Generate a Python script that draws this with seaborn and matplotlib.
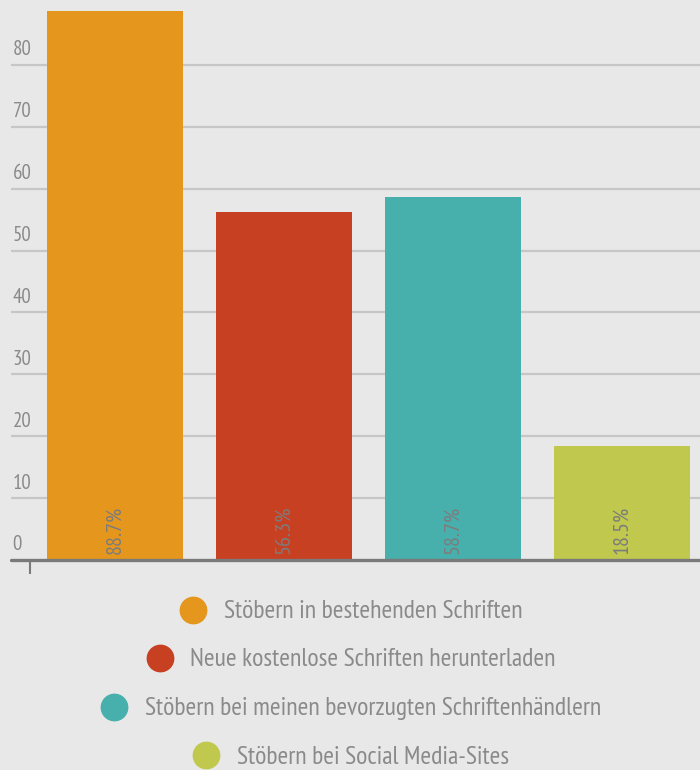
import matplotlib
matplotlib.use("Agg")
import matplotlib.pyplot as plt
import matplotlib.transforms as mtransforms
from matplotlib.lines import Line2D
import seaborn as sns

categories = [
    "Stöbern in bestehenden Schriften",
    "Neue kostenlose Schriften herunterladen",
    "Stöbern bei meinen bevorzugten Schriftenhändlern",
    "Stöbern bei Social Media-Sites",
]
values = [88.7, 56.3, 58.7, 18.5]
value_labels = ["88.7%", "56.3%", "58.7%", "18.5%"]
colors = ["#E5961C", "#C84022", "#48B0AC", "#C0C94D"]
y_ticks = [0, 10, 20, 30, 40, 50, 60, 70, 80]

BG = "#E8E8E8"
GRID = "#C6C6C6"
TEXT = "#8A8A8A"

sns.set_theme(style="white")
plt.rcParams["font.family"] = ["PT Sans Narrow", "DejaVu Sans"]

fig = plt.figure(figsize=(7, 7.7), dpi=100, facecolor=BG)
ax = fig.add_axes([11 / 700, 1 - 560 / 770, 1 - 11 / 700, 560 / 770])
ax.set_facecolor(BG)

# gridlines behind bars
for t in y_ticks[1:]:
    ax.axhline(t, color=GRID, lw=1.6, zorder=0)

sns.barplot(x=categories, y=values, hue=categories, palette=colors,
            width=0.805, saturation=1, legend=False, ax=ax, zorder=2,
            linewidth=0, edgecolor="none")

ax.set_xlim(-0.615, 3.46)
ax.set_ylim(0, 90.5)
ax.axhline(0, color="#7A7A7A", lw=2.4, zorder=3, clip_on=False)

# y tick labels sit above the gridlines
trans = mtransforms.blended_transform_factory(ax.transAxes, ax.transData)
for t in y_ticks:
    ax.text(0.002, t + 0.9, str(t), transform=trans, ha="left", va="bottom",
            fontsize=15, color=TEXT, zorder=4)

# value labels inside bars
for i, lab in enumerate(value_labels):
    ax.text(i, 0.9, lab, rotation=90, ha="center", va="bottom",
            fontsize=16, color="#7C7C7C", zorder=4)

ax.set_yticks([])
ax.set_xticks([-0.5])
ax.set_xticklabels([""])
ax.tick_params(axis="x", direction="out", length=10, width=1.5, color="#7A7A7A", bottom=True)
ax.set_xlabel("")
ax.set_ylabel("")
for s in ax.spines.values():
    s.set_visible(False)

# one centred legend row per category
rows_y = [1 - 612 / 770, 1 - 660 / 770, 1 - 709 / 770, 1 - 757 / 770]
for cat, col, yy in zip(categories, colors, rows_y):
    h = Line2D([], [], marker="o", linestyle="", markersize=19,
               markerfacecolor=col, markeredgecolor=col)
    fig.legend(handles=[h], labels=[cat], loc="center", bbox_to_anchor=(0.5, yy),
               frameon=False, fontsize=18.5, labelcolor=TEXT, handletextpad=0.6,
               borderpad=0, handlelength=1.2)

fig.savefig("out.png", dpi=100, facecolor=BG)
